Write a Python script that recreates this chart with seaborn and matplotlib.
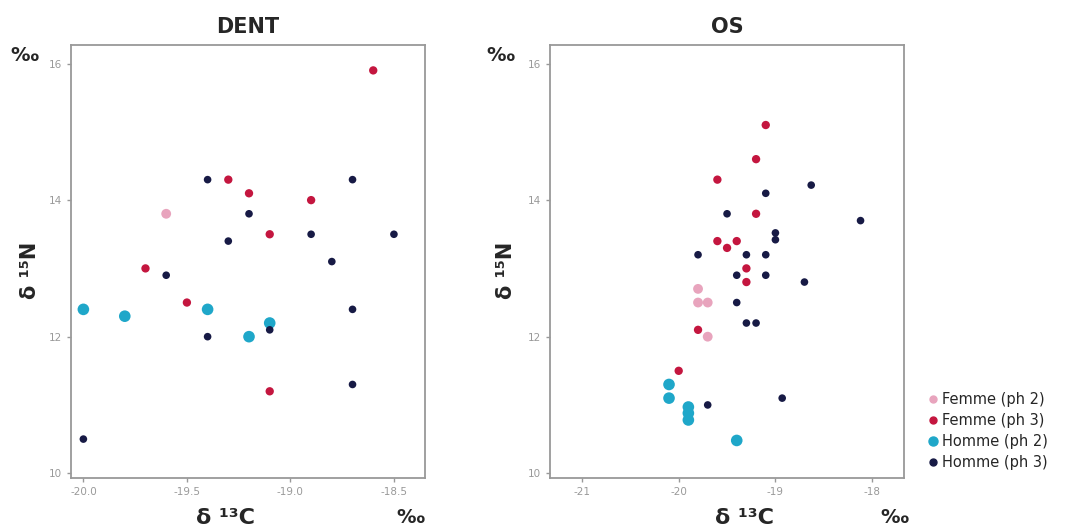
import pandas as pd
import matplotlib
matplotlib.use('Agg')
import matplotlib.pyplot as plt
from matplotlib.lines import Line2D
import seaborn as sns

# groupes
groupes = ['Femme (ph 2)', 'Femme (ph 3)', 'Homme (ph 2)', 'Homme (ph 3)']
couleurs = {'Femme (ph 2)': '#e8a4bd', 'Femme (ph 3)': '#c4163f',
            'Homme (ph 2)': '#1fa7c9', 'Homme (ph 3)': '#171a45'}
tailles = {'Femme (ph 2)': 50, 'Femme (ph 3)': 36, 'Homme (ph 2)': 70, 'Homme (ph 3)': 30}

# DENT : delta 13C / delta 15N
dent_f2_c = [-19.6]
dent_f2_n = [13.8]
dent_f3_c = [-18.6, -19.3, -19.2, -18.9, -19.1, -19.7, -19.5, -19.1]
dent_f3_n = [15.9, 14.3, 14.1, 14.0, 13.5, 13.0, 12.5, 11.2]
dent_h2_c = [-20.0, -19.8, -19.4, -19.1, -19.2]
dent_h2_n = [12.4, 12.3, 12.4, 12.2, 12.0]
dent_h3_c = [-19.4, -18.7, -19.2, -19.3, -18.9, -18.5, -18.8, -19.6, -18.7, -19.1, -19.4, -18.7, -20.0]
dent_h3_n = [14.3, 14.3, 13.8, 13.4, 13.5, 13.5, 13.1, 12.9, 12.4, 12.1, 12.0, 11.3, 10.5]

# OS
os_f2_c = [-19.8, -19.8, -19.7, -19.7]
os_f2_n = [12.7, 12.5, 12.5, 12.0]
os_f3_c = [-19.1, -19.2, -19.6, -19.2, -19.6, -19.4, -19.5, -19.3, -19.3, -19.8, -20.0]
os_f3_n = [15.1, 14.6, 14.3, 13.8, 13.4, 13.4, 13.3, 13.0, 12.8, 12.1, 11.5]
os_h2_c = [-20.1, -20.1, -19.9, -19.9, -19.9, -19.4]
os_h2_n = [11.3, 11.1, 10.97, 10.88, 10.78, 10.48]
os_h3_c = [-18.63, -19.1, -19.5, -18.12, -19.0, -19.0, -19.8, -19.3, -19.1, -19.4, -19.1,
           -18.7, -19.4, -19.3, -19.2, -19.7, -18.93]
os_h3_n = [14.22, 14.1, 13.8, 13.7, 13.52, 13.42, 13.2, 13.2, 13.2, 12.9, 12.9,
           12.8, 12.5, 12.2, 12.2, 11.0, 11.1]


def make_df(series):
    rows = []
    for g, (c, n) in zip(groupes, series):
        for x, y in zip(c, n):
            rows.append({'d13C': x, 'd15N': y, 'groupe': g})
    return pd.DataFrame(rows)


df_dent = make_df([(dent_f2_c, dent_f2_n), (dent_f3_c, dent_f3_n),
                   (dent_h2_c, dent_h2_n), (dent_h3_c, dent_h3_n)])
df_os = make_df([(os_f2_c, os_f2_n), (os_f3_c, os_f3_n),
                 (os_h2_c, os_h2_n), (os_h3_c, os_h3_n)])

sns.set_style('white')
plt.rcParams['font.family'] = ['DejaVu Sans']

fig = plt.figure(figsize=(10.67, 5.31), dpi=100)
ax1 = fig.add_axes([0.0665, 0.0998, 0.3318, 0.8152])
ax2 = fig.add_axes([0.5155, 0.0998, 0.3318, 0.8152])

panneaux = [
    (ax1, df_dent, 'DENT', (-20.06, -18.35), [-20.0, -19.5, -19.0, -18.5], ['-20.0', '-19.5', '-19.0', '-18.5']),
    (ax2, df_os, 'OS', (-21.33, -17.67), [-21, -20, -19, -18], ['-21', '-20', '-19', '-18']),
]

for ax, df, titre, xlim, xt, xtl in panneaux:
    sns.scatterplot(data=df, x='d13C', y='d15N', hue='groupe', size='groupe',
                    palette=couleurs, sizes=tailles, hue_order=groupes,
                    edgecolor='none', legend=False, ax=ax)
    ax.set_xlim(*xlim)
    ax.set_ylim(9.93, 16.27)
    ax.set_xticks(xt)
    ax.set_xticklabels(xtl)
    ax.set_yticks([10, 12, 14, 16])
    ax.set_yticklabels(['10', '12', '14', '16'])
    ax.tick_params(axis='both', labelsize=7.5, colors='#999999', length=3, width=1,
                   direction='out', bottom=True, left=True)
    for sp in ax.spines.values():
        sp.set_color('#999999')
        sp.set_linewidth(1.3)
    ax.set_xlabel('')
    ax.set_ylabel('')
    ax.set_title(titre, fontsize=15, fontweight='bold', pad=9)

# etiquettes des axes
for xl, xc, xp in [(0.028, 0.211, 0.385), (0.474, 0.698, 0.838)]:
    fig.text(xl, 0.49, 'δ ¹⁵N', rotation=90, ha='center', va='center',
             fontsize=15, fontweight='bold')
    fig.text(xl - 0.005, 0.895, '‰', ha='center', va='center', fontsize=14, fontweight='bold')
    fig.text(xc, 0.025, 'δ ¹³C', ha='center', va='center', fontsize=16, fontweight='bold')
    fig.text(xp, 0.025, '‰', ha='center', va='center', fontsize=14, fontweight='bold')

# legende
handles = [Line2D([], [], marker='o', linestyle='', color=couleurs[g],
                  markersize=6.5 if g == 'Homme (ph 2)' else 5) for g in groupes]
fig.legend(handles, groupes, loc='center left', bbox_to_anchor=(0.862, 0.188),
           frameon=False, fontsize=10.5, handletextpad=0.1, labelspacing=0.4,
           handlelength=1.0, borderaxespad=0)

fig.savefig('out.png', dpi=100)
